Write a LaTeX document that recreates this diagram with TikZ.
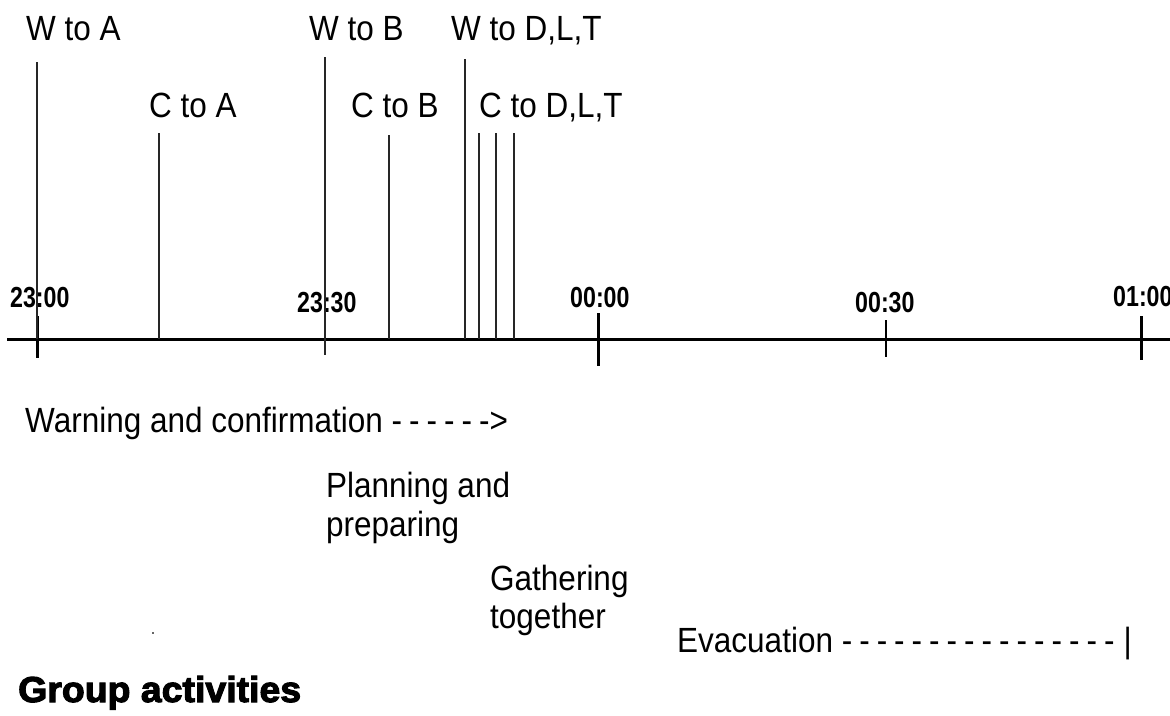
\documentclass[tikz,border=0pt]{standalone}
\usepackage{fontspec}
\setmainfont{Liberation Sans}[FakeStretch=0.9]
\newfontfamily\timefont{Liberation Sans}[FakeStretch=0.8]
\newfontfamily\groupfont{Liberation Sans}[FakeStretch=1.04,BoldFeatures={FakeBold=3}]
\usepackage{tikz}
\usetikzlibrary{positioning}
\newcommand{\dashrun}[1]{\foreach \k in {1,...,#1}{-\hspace{7pt}}}
\tikzset{
  txt/.style={anchor=base west, inner sep=0pt, font=\fontsize{35}{38}\selectfont},
  timelbl/.style={anchor=base west, inner sep=0pt, font=\timefont\bfseries\fontsize{29}{30}\selectfont},
  event/.style={line width=1.4pt, black!85},
  bigtick/.style={line width=3pt},
  smalltick/.style={line width=1.5pt}
}
\begin{document}
\begin{tikzpicture}[x=1pt, y=-1pt]
\useasboundingbox (0,0) rectangle (1170,715);
% time axis
\draw[line width=3pt] (7,339) -- (1170,339);
\draw[bigtick] (37,316) -- (37,358);
\draw[event] (325,339) -- (325,355);
\draw[bigtick] (598,313) -- (598,366);
\draw[smalltick] (886,320) -- (886,357);
\draw[bigtick] (1141,316) -- (1141,360);
\node[timelbl] (t2300) at (10,307) {23:00};
\node[timelbl] (t2330) at (297,312) {23:30};
\node[timelbl] (t0000) at (570,307) {00:00};
\node[timelbl] (t0030) at (855,312) {00:30};
\node[timelbl] (t0100) at (1113,306) {01:00};
% warnings and confirmations
\node[txt] (wA) at (26,40) {W to A};
\node[txt] (wB) at (309,40) {W to B};
\node[txt] (wD) at (451,40) {W to D,L,T};
\node[txt] (cA) at (149,117) {C to A};
\node[txt] (cB) at (351,117) {C to B};
\node[txt] (cD) at (479,117) {C to D,L,T};
\draw[event] (37,62) -- (37,339);
\draw[event] (325,57) -- (325,339);
\draw[event] (465,59) -- (465,339);
\draw[event] (159,133) -- (159,339);
\draw[event] (389,135) -- (389,339);
\foreach \x in {479,496,514}
  \draw[event] (\x,133) -- (\x,339);
% phases
\node[txt] (warn) at (25,432) {Warning and confirmation \dashrun{5}->};
\node[txt] (plan) at (326,497) {Planning and};
\node[txt] (prep) at (326,536) {preparing};
\node[txt] (gath) at (490,590) {Gathering};
\node[txt] (toge) at (490,628) {together};
\node[txt] (evac) at (677,652) {Evacuation \dashrun{16}\hspace{2pt}|};
\fill[black!60] (152,632) rectangle (154,634);
\node[anchor=base west, inner sep=0pt, font=\groupfont\bfseries\fontsize{36}{38}\selectfont]
  (group) at (18,702) {Group activities};
\end{tikzpicture}
\end{document}
